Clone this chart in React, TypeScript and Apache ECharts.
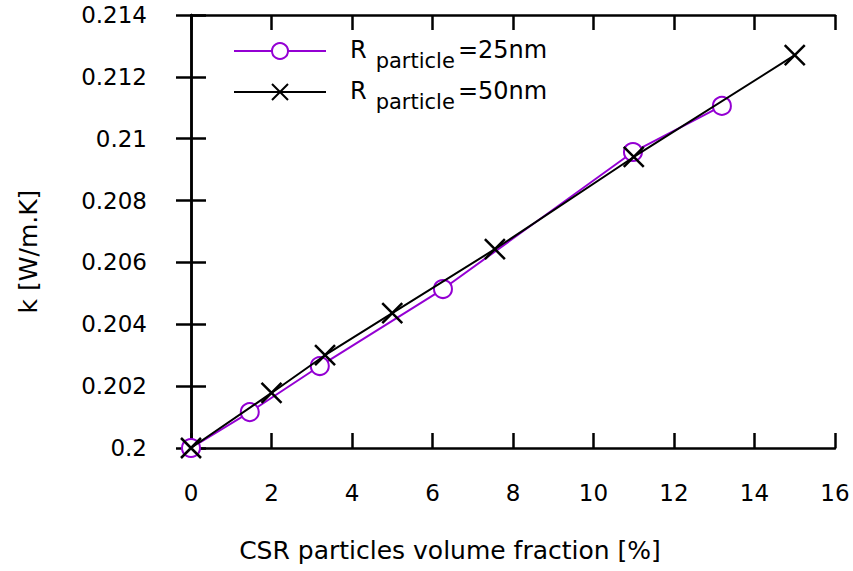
import React, { useEffect, useRef } from "react";
import * as echarts from "echarts";

const xTicks = [0, 2, 4, 6, 8, 10, 12, 14, 16];
const r25X = [0, 1.46, 3.2, 6.26, 10.98, 13.19];
const r25Y = [0.2, 0.20116, 0.20265, 0.20514, 0.20957, 0.21106];
const r50X = [0, 2, 3.33, 5, 7.55, 11, 15];
const r50Y = [0.2, 0.20178, 0.2030, 0.20436, 0.20643, 0.20941, 0.2127];
const seriesNames = ["R particle=25nm", "R particle=50nm"];

const PURPLE = "#9400d3";
const FONT = "DejaVu Sans";

export default function App() {
  const ref = useRef<HTMLDivElement>(null);
  useEffect(() => {
    if (!ref.current) return;
    const chart = echarts.init(ref.current, null, { renderer: "svg" });
    const axisCommon = {
      axisLine: { show: true, lineStyle: { color: "#000", width: 2.5 } },
      axisTick: { show: true, inside: true, length: 15, lineStyle: { color: "#000", width: 2.5 } },
      splitLine: { show: false },
    };
    chart.setOption({
      animation: false,
      backgroundColor: "#fff",
      textStyle: { fontFamily: FONT },
      grid: { left: 191, top: 15, right: 18, bottom: 123, containLabel: false },
      legend: {
        orient: "vertical",
        left: 228,
        top: 33,
        itemWidth: 92,
        itemHeight: 20,
        itemGap: 8,
        data: seriesNames,
        formatter: (name: string) => {
          const rest = name.replace("R particle", "");
          return `{r0|R}{s|particle}{r|${rest}}`;
        },
        textStyle: {
          rich: {
            r0: { fontSize: 24, fontFamily: FONT, color: "#000", padding: [0, 0, 0, 19], lineHeight: 26, verticalAlign: "top" },
            s: { fontSize: 21, fontFamily: FONT, color: "#000", padding: [12, 3, 0, 9], lineHeight: 22, verticalAlign: "top" },
            r: { fontSize: 24, fontFamily: FONT, color: "#000", lineHeight: 26, verticalAlign: "top" },
          },
        },
      },
      xAxis: [
        {
          type: "value",
          min: 0,
          max: 16,
          interval: 2,
          position: "bottom",
          ...axisCommon,
          axisLabel: { fontSize: 23, color: "#000", margin: 33, fontFamily: FONT },
          name: "CSR particles volume fraction [%]",
          nameLocation: "middle",
          nameGap: 90,
          nameTextStyle: { fontSize: 25, color: "#000", fontFamily: FONT, padding: [0, 126, 0, 0] },
        },
        {
          type: "value",
          min: 0,
          max: 16,
          interval: 2,
          position: "top",
          ...axisCommon,
          axisLabel: { show: false },
        },
      ],
      yAxis: [
        {
          type: "value",
          min: 0.2,
          max: 0.214,
          interval: 0.002,
          position: "left",
          ...axisCommon,
          axisLabel: { fontSize: 23, color: "#000", margin: 44, fontFamily: FONT },
          name: "k [W/m.K]",
          nameLocation: "middle",
          nameGap: 150,
          nameTextStyle: { fontSize: 25, color: "#000", fontFamily: FONT, padding: [0, 40, 0, 0] },
        },
        {
          type: "value",
          min: 0.2,
          max: 0.214,
          interval: 0.002,
          position: "right",
          ...axisCommon,
          axisLabel: { show: false },
        },
      ],
      series: [
        {
          name: seriesNames[0],
          type: "line",
          data: r25X.map((x, i) => [x, r25Y[i]]),
          symbol: "emptyCircle",
          symbolSize: 18,
          lineStyle: { color: PURPLE, width: 2 },
          itemStyle: { color: PURPLE, borderColor: PURPLE, borderWidth: 2.2 },
          z: 2,
        },
        {
          name: seriesNames[1],
          type: "line",
          data: r50X.map((x, i) => [x, r50Y[i]]),
          symbol: "path://M0,0L10,10M10,0L0,10",
          symbolSize: 20,
          lineStyle: { color: "#000", width: 2 },
          itemStyle: { color: "#000", borderColor: "#000", borderWidth: 2.5 },
          z: 3,
        },
      ],
    });
    return () => chart.dispose();
  }, []);
  return <div ref={ref} style={{ width: 853, height: 571, position: "absolute", left: 0, top: 0 }} />;
}
